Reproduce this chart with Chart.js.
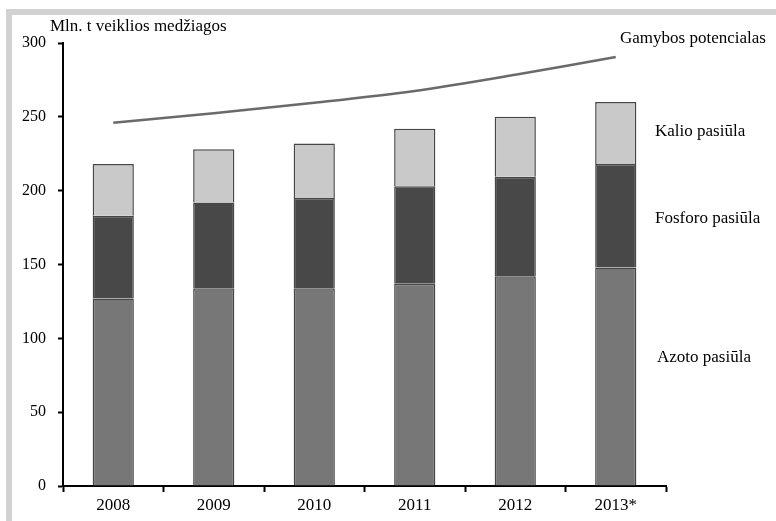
<!DOCTYPE html>
<html>
<head>
<meta charset="utf-8">
<script src="https://cdn.jsdelivr.net/npm/chart.js@4"></script>
<style>
  html, body { margin: 0; padding: 0; background: #fff; }
  #wrap { position: relative; width: 776px; height: 521px; overflow: hidden; }
  #frame { position: absolute; left: 6px; top: 9px; right: -10px; bottom: -10px;
           border-top: 6px solid #d2d2d2; border-left: 6px solid #d2d2d2; }
  canvas { position: absolute; left: 0; top: 0; }
</style>
</head>
<body>
<div id="wrap">
  <div id="frame"></div>
  <canvas id="chart" width="776" height="521"></canvas>
</div>
<script>
// --- Duomenys ---
const years = ['2008', '2009', '2010', '2011', '2012', '2013*'];
const azotas = [127, 134, 134, 137, 142, 148];
const fosforas = [56, 58, 61, 66, 67.5, 70];
const kalis = [35, 36, 37, 39, 40.5, 42];
const potencialas = [246, 252.5, 259.5, 267.5, 278.5, 290.5];
const yTicks = [0, 50, 100, 150, 200, 250, 300];

const serif = '"Liberation Serif", "Times New Roman", serif';

// Užrašai dešinėje: tekstas ir vertė, prie kurios jis dedamas
const sideLabels = [
    { text: 'Gamybos potencialas', value: 303, dx: -46 },
    { text: 'Kalio pasiūla', value: 240, dx: -11 },
    { text: 'Fosforo pasiūla', value: 181, dx: -11 },
    { text: 'Azoto pasiūla', value: 87, dx: -9 }
];

const labelsPlugin = {
    id: 'labels',
    afterDraw(chart) {
        const ctx = chart.ctx;
        const y = chart.scales.y;
        const area = chart.chartArea;
        ctx.save();
        ctx.fillStyle = '#000';
        ctx.font = '17px ' + serif;
        ctx.textBaseline = 'middle';
        ctx.textAlign = 'left';
        sideLabels.forEach(l => {
            ctx.fillText(l.text, area.right + l.dx, y.getPixelForValue(l.value));
        });
        // ašies pavadinimas
        ctx.fillText('Mln. t veiklios medžiagos', area.left - 13, area.top - 16);
        ctx.restore();
    }
};

const barStyle = { borderColor: '#464646', borderWidth: 1.5, barPercentage: 0.41, categoryPercentage: 1, order: 1, stack: 'pasiula' };

new Chart(document.getElementById('chart'), {
    type: 'bar',
    data: {
        labels: years,
        datasets: [
            { label: 'Azoto pasiūla', data: azotas, backgroundColor: '#777777', ...barStyle },
            { label: 'Fosforo pasiūla', data: fosforas, backgroundColor: '#484848', ...barStyle },
            { label: 'Kalio pasiūla', data: kalis, backgroundColor: '#c9c9c9', ...barStyle },
            {
                type: 'line', label: 'Gamybos potencialas', data: potencialas,
                borderColor: '#6a6a6a', borderWidth: 2.5, pointRadius: 0,
                tension: 0.3, fill: false, order: 0, stack: 'linija'
            }
        ]
    },
    options: {
        responsive: false,
        animation: false,
        layout: { padding: { top: 43, right: 110, bottom: 0, left: 0 } },
        plugins: { legend: { display: false }, tooltip: { enabled: false } },
        scales: {
            x: {
                stacked: true,
                offset: true,
                border: { color: '#000', width: 2 },
                grid: { display: true, drawOnChartArea: false, offset: true, color: '#000', tickLength: 6, tickWidth: 2 },
                ticks: { color: '#000', font: { family: serif, size: 17 }, padding: 3 },
                afterFit(scale) { scale.height = 35; }
            },
            y: {
                stacked: true,
                min: 0, max: 300,
                border: { color: '#000', width: 2 },
                grid: { display: true, drawOnChartArea: false, color: '#000', tickLength: 5, tickWidth: 2 },
                afterBuildTicks(scale) { scale.ticks = yTicks.map(v => ({ value: v })); },
                ticks: { color: '#000', font: { family: serif, size: 16 }, padding: 12 },
                afterFit(scale) { scale.width = 63; }
            }
        }
    },
    plugins: [labelsPlugin]
});
</script>
</body>
</html>
